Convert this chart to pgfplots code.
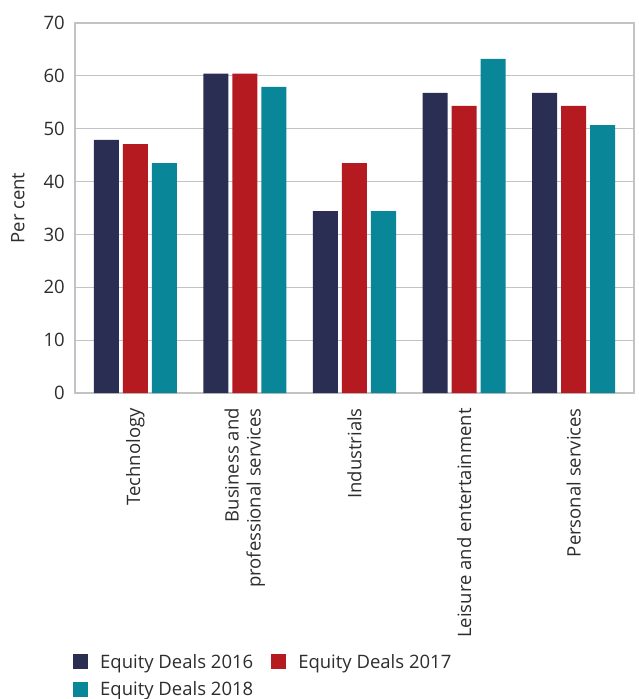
\documentclass[border=0pt]{standalone}
\usepackage{pgfplots}
\pgfplotsset{compat=1.18}
\usepackage{fontspec}
\setmainfont{Open Sans}
\definecolor{cNavy}{RGB}{41,46,82}
\definecolor{cRed}{RGB}{181,26,32}
\definecolor{cTeal}{RGB}{9,135,153}
\definecolor{cGrid}{RGB}{195,195,195}
\definecolor{cText}{RGB}{45,45,45}
\newcommand{\cf}{\fontsize{18.5}{22}\selectfont}
\begin{document}
\begin{tikzpicture}
\useasboundingbox (-75pt,-306pt) rectangle (563pt,393pt);
\begin{axis}[
  at={(0,0)}, anchor=south west,
  scale only axis, width=559pt, height=370pt,
  ybar=4pt, bar width=25pt,
  xmin=-0.55, xmax=4.55,
  ymin=0, ymax=70, ytick={0,10,...,70},
  xtick=data,
  xticklabels={Technology,{Business and\\professional services},Industrials,Leisure and entertainment,Personal services},
  xticklabel shift=15pt,
  xticklabel style={rotate=90, anchor=east, align=right, inner sep=0pt, text=cText, font=\cf},
  yticklabel style={inner sep=0pt, xshift=-10pt, text=cText, font=\cf},
  /pgf/number format/assume math mode=true,
  major tick length=0pt,
  ymajorgrids, grid style={cGrid, line width=1.2pt},
  axis line style={cGrid, line width=1.2pt},
  ylabel={Per cent},
  ylabel style={at={(axis description cs:-0.102,0.5)}, anchor=center, text=cText, font=\cf},
  legend columns=2,
  legend image code/.code={\fill[#1] (0pt,-7.5pt) rectangle (15pt,7.5pt);},
  legend style={draw=none, at={(axis description cs:-0.009,-0.70)}, anchor=north west,
    nodes={inner sep=0pt, text=cText}, font=\cf,
    /tikz/every odd column/.style={column sep=12pt},
    /tikz/every even column/.style={column sep=18pt},
    row sep=12pt},
]
\addplot[fill=cNavy, draw=none] coordinates {(0,47.9) (1,60.4) (2,34.4) (3,56.8) (4,56.8)};
\addplot[fill=cRed, draw=none] coordinates {(0,47.1) (1,60.4) (2,43.5) (3,54.3) (4,54.3)};
\addplot[fill=cTeal, draw=none] coordinates {(0,43.5) (1,57.9) (2,34.4) (3,63.2) (4,50.7)};
\legend{Equity Deals 2016,Equity Deals 2017,Equity Deals 2018}
\end{axis}
\end{tikzpicture}
\end{document}
